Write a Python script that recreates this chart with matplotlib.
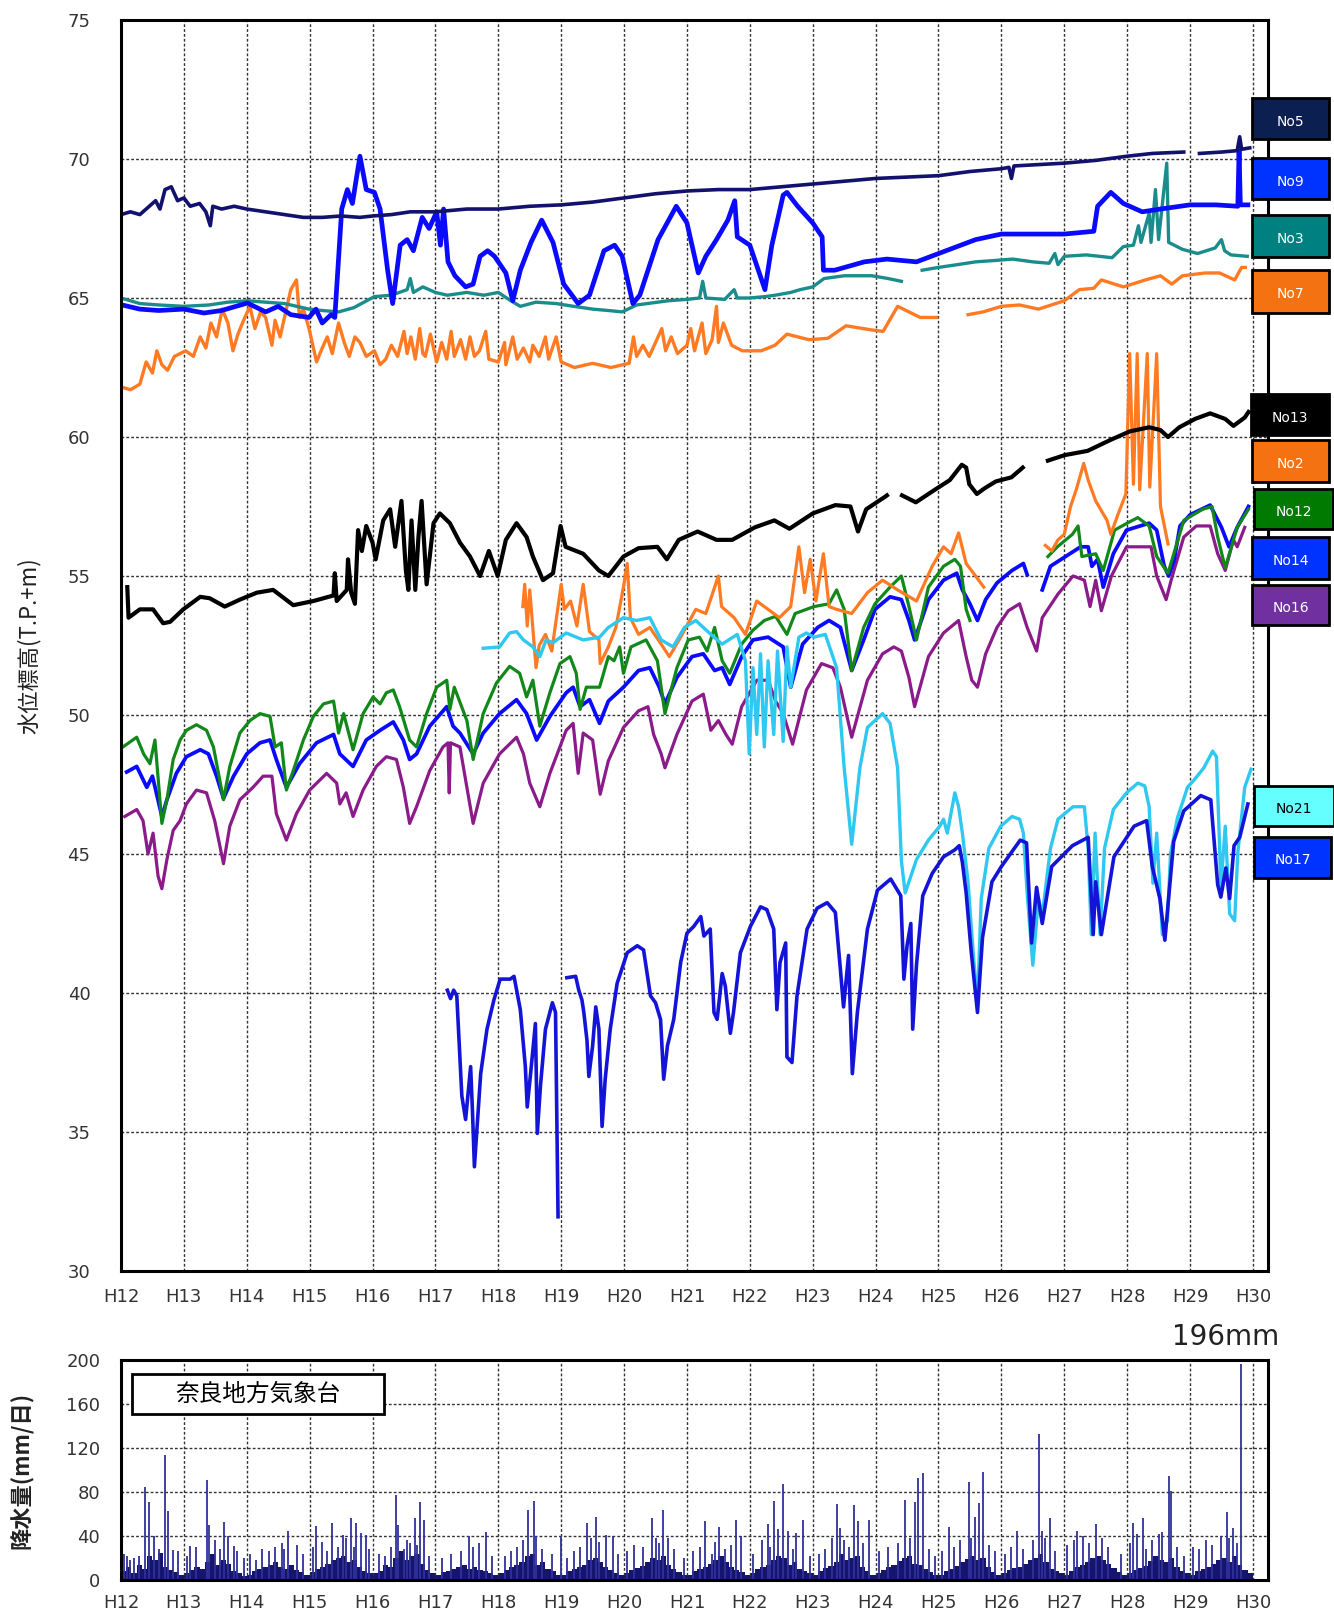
import numpy as np
import matplotlib
matplotlib.use("Agg")
import matplotlib.pyplot as plt
from matplotlib.patches import Rectangle

plt.rcParams['font.family'] = ['DejaVu Sans', 'Noto Sans CJK JP']

# groundwater level (T.P.+m), time in years from the start of H12; None = gap
no5 = [(0.0, 68.0), (0.15, 68.1), (0.3, 68.0), (0.45, 68.3), (0.55, 68.5), (0.62, 68.2), (0.7, 68.9), (0.8, 69.0),
       (0.9, 68.5), (1.0, 68.6), (1.1, 68.3), (1.25, 68.4), (1.35, 68.1), (1.42, 67.6), (1.46, 68.3), (1.6, 68.2),
       (1.8, 68.3), (2.0, 68.2), (2.3, 68.1), (2.6, 68.0), (2.9, 67.9), (3.2, 67.9), (3.5, 67.95), (3.8, 67.9),
       (4.0, 67.95), (4.3, 68.0), (4.6, 68.1), (5.0, 68.1), (5.5, 68.2), (6.0, 68.2), (6.5, 68.3), (7.0, 68.35),
       (7.5, 68.45), (8.0, 68.6), (8.5, 68.75), (9.0, 68.85), (9.5, 68.9), (10.0, 68.9), (10.5, 69.0), (11.0, 69.1),
       (11.5, 69.2), (12.0, 69.3), (12.5, 69.35), (13.0, 69.4), (13.5, 69.55), (14.0, 69.65), (14.12, 69.7),
       (14.16, 69.3), (14.2, 69.75), (14.6, 69.8), (15.0, 69.85), (15.5, 69.95), (16.0, 70.1), (16.4, 70.2),
       (16.9, 70.25), None, (17.15, 70.2), (17.5, 70.25), (17.75, 70.3), (17.79, 70.8), (17.82, 70.35), (17.95, 70.4)]

no9 = [(0.0, 64.76), (0.3, 64.6), (0.6, 64.55), (1.0, 64.6), (1.32, 64.46), (1.6, 64.55), (2.01, 64.82), (2.3, 64.5),
       (2.5, 64.7), (2.7, 64.4), (2.99, 64.3), (3.1, 64.6), (3.2, 64.1), (3.34, 64.4), (3.4, 64.3), (3.51, 68.2),
       (3.6, 68.9), (3.68, 68.4), (3.75, 69.4), (3.8, 70.1), (3.9, 68.9), (4.03, 68.8), (4.12, 68.2), (4.24, 66.0),
       (4.32, 64.8), (4.44, 66.9), (4.55, 67.1), (4.65, 66.7), (4.79, 67.9), (4.9, 67.5), (5.02, 68.1), (5.08, 66.9),
       (5.13, 68.2), (5.2, 66.3), (5.31, 65.8), (5.48, 65.4), (5.6, 65.5), (5.71, 66.5), (5.83, 66.7), (5.94, 66.5),
       (6.12, 65.9), (6.23, 64.9), (6.35, 66.0), (6.52, 67.0), (6.69, 67.8), (6.87, 67.0), (7.04, 65.5), (7.27, 64.8),
       (7.45, 65.1), (7.68, 66.7), (7.85, 66.9), (7.97, 66.5), (8.14, 64.8), (8.25, 65.1), (8.54, 67.1), (8.83, 68.3),
       (9.0, 67.7), (9.18, 65.9), (9.3, 66.5), (9.47, 67.1), (9.65, 67.8), (9.76, 68.5), (9.8, 67.2), (10.0, 66.9),
       (10.18, 65.7), (10.24, 65.3), (10.35, 66.9), (10.53, 68.7), (10.59, 68.8), (10.76, 68.3), (11.0, 67.7),
       (11.15, 67.2), (11.17, 66.0), (11.35, 66.0), (11.82, 66.3), (12.18, 66.4), (12.65, 66.3), (13.12, 66.7),
       (13.59, 67.1), (14.0, 67.3), (14.47, 67.3), (15.0, 67.3), (15.47, 67.4), (15.53, 68.3), (15.74, 68.8),
       (15.94, 68.4), (16.24, 68.1), (16.53, 68.2), (17.0, 68.35), (17.41, 68.35), (17.76, 68.3), (17.78, 70.3),
       (17.8, 68.35), (17.92, 68.35)]

no3 = [(0.0, 65.0), (0.3, 64.8), (0.6, 64.75), (1.0, 64.7), (1.4, 64.75), (1.7, 64.85), (2.01, 64.9), (2.3, 64.85),
       (2.6, 64.8), (2.99, 64.6), (3.2, 64.55), (3.46, 64.5), (3.7, 64.65), (4.03, 65.05), (4.3, 65.1), (4.55, 65.3),
       (4.6, 65.7), (4.65, 65.2), (4.8, 65.4), (5.0, 65.2), (5.19, 65.1), (5.5, 65.2), (5.77, 65.1), (6.0, 65.2),
       (6.2, 64.9), (6.35, 64.7), (6.6, 64.85), (6.92, 64.8), (7.2, 64.7), (7.5, 64.6), (7.75, 64.55), (7.97, 64.5),
       (8.2, 64.75), (8.37, 64.8), (8.7, 64.9), (9.0, 64.95), (9.2, 65.0), (9.25, 65.6), (9.3, 65.0), (9.6, 64.95),
       (9.75, 65.3), (9.8, 65.0), (10.0, 65.0), (10.24, 65.05), (10.4, 65.1), (10.65, 65.2), (10.8, 65.3),
       (11.0, 65.4), (11.18, 65.7), (11.5, 65.8), (11.94, 65.8), (12.2, 65.7), (12.41, 65.6), None, (12.74, 66.0),
       (13.0, 66.1), (13.3, 66.2), (13.59, 66.3), (13.9, 66.35), (14.18, 66.4), (14.5, 66.3), (14.76, 66.25),
       (14.85, 66.6), (14.9, 66.2), (15.0, 66.5), (15.35, 66.55), (15.76, 66.45), (15.94, 66.85), (16.1, 66.9),
       (16.18, 67.6), (16.22, 67.0), (16.35, 68.05), (16.38, 67.0), (16.45, 68.9), (16.5, 67.1), (16.63, 69.85),
       (16.66, 67.0), (16.88, 66.75), (17.12, 66.6), (17.4, 66.8), (17.5, 67.1), (17.55, 66.7), (17.65, 66.55),
       (17.91, 66.5)]

no7 = [(0.0, 61.8), (0.15, 61.7), (0.3, 61.9), (0.4, 62.7), (0.5, 62.3), (0.57, 63.1), (0.65, 62.6), (0.74, 62.4),
       (0.85, 62.9), (1.03, 63.1), (1.15, 62.9), (1.26, 63.6), (1.35, 63.2), (1.43, 64.1), (1.52, 63.6), (1.61, 64.6),
       (1.7, 64.1), (1.78, 63.1), (1.86, 63.7), (1.95, 64.2), (2.05, 64.7), (2.13, 63.9), (2.22, 64.5), (2.3, 64.3),
       (2.4, 63.3), (2.45, 64.2), (2.53, 63.6), (2.6, 64.3), (2.7, 65.3), (2.79, 65.65), (2.84, 64.3), (2.9, 64.6),
       (2.99, 63.9), (3.05, 63.3), (3.11, 62.7), (3.2, 63.2), (3.28, 63.6), (3.36, 63.0), (3.46, 64.1), (3.55, 63.4),
       (3.63, 62.9), (3.72, 63.6), (3.8, 63.4), (3.9, 62.9), (4.03, 63.1), (4.12, 62.6), (4.21, 62.8), (4.3, 63.3),
       (4.4, 62.9), (4.5, 63.8), (4.55, 63.0), (4.61, 63.6), (4.68, 62.8), (4.75, 63.9), (4.8, 63.0), (4.84, 62.9),
       (4.92, 63.7), (5.02, 62.7), (5.1, 63.4), (5.18, 62.8), (5.25, 63.8), (5.3, 62.9), (5.4, 63.5), (5.48, 62.8),
       (5.55, 63.6), (5.62, 62.9), (5.7, 63.1), (5.8, 63.8), (5.85, 62.8), (6.0, 62.7), (6.1, 63.4), (6.12, 62.6),
       (6.23, 63.6), (6.3, 62.8), (6.4, 63.2), (6.5, 62.7), (6.55, 63.3), (6.65, 62.9), (6.75, 63.6), (6.8, 62.8),
       (6.92, 63.6), (7.0, 62.7), (7.21, 62.5), (7.5, 62.65), (7.79, 62.5), (8.08, 62.65), (8.15, 63.6), (8.2, 62.9),
       (8.3, 63.3), (8.4, 62.9), (8.5, 63.4), (8.6, 63.9), (8.66, 63.1), (8.75, 63.6), (8.85, 63.0), (9.0, 63.3),
       (9.06, 63.9), (9.12, 63.1), (9.24, 64.1), (9.3, 63.0), (9.4, 63.5), (9.47, 64.7), (9.5, 63.4), (9.58, 64.1),
       (9.71, 63.3), (9.88, 63.1), (10.18, 63.1), (10.4, 63.3), (10.59, 63.7), (10.94, 63.5), (11.24, 63.55),
       (11.53, 64.0), (11.94, 63.85), (12.12, 63.8), (12.35, 64.7), (12.53, 64.5), (12.71, 64.3), (12.97, 64.3),
       None, (13.47, 64.4), (13.71, 64.5), (14.0, 64.7), (14.29, 64.75), (14.59, 64.6), (15.0, 64.9), (15.24, 65.3),
       (15.47, 65.35), (15.59, 65.65), (15.94, 65.4), (16.29, 65.65), (16.53, 65.8), (16.71, 65.5), (16.88, 65.8),
       (17.24, 65.9), (17.47, 65.9), (17.71, 65.65), (17.82, 66.1), (17.88, 66.1)]

no13 = [(0.1, 54.6), (0.12, 53.5), (0.3, 53.8), (0.51, 53.8), (0.67, 53.3), (0.78, 53.35), (0.99, 53.8), (1.26, 54.25),
        (1.41, 54.2), (1.65, 53.9), (1.89, 54.15), (2.16, 54.4), (2.42, 54.5), (2.74, 53.95), (3.06, 54.1),
        (3.38, 54.3), (3.4, 55.1), (3.43, 54.1), (3.59, 54.5), (3.61, 55.6), (3.66, 54.4), (3.72, 54.0),
        (3.77, 56.65), (3.83, 55.9), (3.9, 56.8), (4.0, 56.2), (4.05, 55.6), (4.17, 57.0), (4.28, 57.4),
        (4.36, 56.05), (4.46, 57.7), (4.53, 55.2), (4.57, 54.5), (4.62, 57.0), (4.68, 54.5), (4.73, 56.4),
        (4.78, 57.7), (4.86, 54.7), (4.97, 56.9), (5.07, 57.25), (5.23, 56.9), (5.39, 56.2), (5.55, 55.7),
        (5.71, 55.0), (5.85, 55.9), (5.99, 55.0), (6.12, 56.3), (6.29, 56.9), (6.45, 56.4), (6.55, 55.7),
        (6.71, 54.85), (6.87, 55.1), (6.99, 56.8), (7.07, 56.05), (7.35, 55.8), (7.6, 55.2), (7.75, 55.0),
        (7.99, 55.7), (8.23, 56.0), (8.53, 56.05), (8.68, 55.6), (8.87, 56.3), (9.17, 56.6), (9.47, 56.3),
        (9.72, 56.3), (10.08, 56.75), (10.39, 57.0), (10.63, 56.7), (11.0, 57.25), (11.36, 57.55), (11.6, 57.5),
        (11.72, 56.6), (11.85, 57.4), (12.15, 57.85), (12.18, 57.9), None, (12.42, 57.9), (12.64, 57.65),
        (12.94, 58.1), (13.18, 58.45), (13.37, 59.0), (13.44, 58.9), (13.49, 58.3), (13.61, 57.95), (13.73, 58.15),
        (13.91, 58.4), (14.16, 58.55), (14.34, 58.9), None, (14.74, 59.15), (15.01, 59.35), (15.37, 59.5),
        (15.74, 59.9), (16.04, 60.2), (16.35, 60.35), (16.53, 60.25), (16.65, 60.0), (16.83, 60.35), (17.08, 60.65),
        (17.32, 60.85), (17.56, 60.65), (17.69, 60.4), (17.87, 60.7), (17.93, 60.9)]

no2 = [(6.39, 53.9), (6.42, 54.7), (6.46, 53.2), (6.5, 54.5), (6.6, 51.7), (6.65, 52.5), (6.75, 52.9), (6.85, 52.3),
       (7.0, 54.7), (7.05, 53.8), (7.15, 54.1), (7.25, 53.2), (7.35, 54.7), (7.45, 53.0), (7.6, 52.7), (7.62, 51.85),
       (7.75, 52.45), (7.87, 53.15), (7.99, 54.6), (8.05, 55.45), (8.1, 53.5), (8.23, 52.9), (8.41, 53.15),
       (8.59, 52.55), (8.72, 52.1), (8.9, 52.8), (9.14, 53.8), (9.3, 53.65), (9.5, 55.0), (9.55, 53.9), (9.75, 53.5),
       (9.93, 52.9), (10.11, 54.1), (10.29, 53.8), (10.47, 53.5), (10.65, 53.9), (10.78, 56.05), (10.87, 54.4),
       (10.96, 55.6), (11.05, 54.1), (11.17, 55.8), (11.26, 53.9), (11.38, 53.8), (11.62, 53.65), (11.87, 54.4),
       (12.11, 54.85), (12.35, 54.5), (12.65, 54.1), (12.9, 55.35), (13.08, 56.05), (13.2, 55.8), (13.32, 56.55),
       (13.44, 55.45), (13.59, 55.0), (13.72, 54.6), None, (14.7, 56.1), (14.8, 55.9), (14.9, 56.3), (15.0, 56.5),
       (15.1, 57.5), (15.19, 58.1), (15.31, 59.05), (15.38, 58.45), (15.5, 57.7), (15.68, 57.0), (15.74, 56.5),
       (15.86, 57.25), (15.98, 57.95), (16.04, 63.0), (16.1, 58.3), (16.16, 63.0), (16.2, 58.1), (16.32, 63.0),
       (16.36, 58.2), (16.47, 63.0), (16.53, 57.5), (16.65, 56.15)]

no12 = [(0.03, 48.85), (0.25, 49.2), (0.36, 48.6), (0.46, 48.25), (0.54, 49.1), (0.65, 46.1), (0.73, 46.95),
        (0.83, 48.4), (0.94, 49.1), (1.04, 49.45), (1.2, 49.65), (1.36, 49.45), (1.47, 48.85), (1.55, 47.9),
        (1.63, 46.95), (1.73, 48.15), (1.89, 49.35), (2.05, 49.8), (2.21, 50.05), (2.37, 49.95), (2.45, 48.85),
        (2.55, 49.0), (2.63, 47.3), (2.74, 48.0), (2.9, 49.1), (3.06, 49.95), (3.22, 50.4), (3.38, 50.5),
        (3.46, 49.35), (3.54, 50.05), (3.69, 48.75), (3.85, 50.05), (4.01, 50.65), (4.12, 50.4), (4.22, 50.8),
        (4.33, 50.9), (4.43, 50.3), (4.59, 49.1), (4.7, 48.85), (4.86, 50.05), (5.02, 51.0), (5.18, 51.25),
        (5.23, 50.2), (5.3, 51.0), (5.5, 49.8), (5.6, 48.4), (5.76, 50.05), (5.97, 51.15), (6.18, 51.75),
        (6.34, 51.5), (6.45, 50.65), (6.55, 51.25), (6.66, 49.6), (6.82, 50.8), (6.98, 51.85), (7.14, 52.1),
        (7.24, 51.5), (7.3, 50.2), (7.4, 51.0), (7.61, 51.0), (7.75, 52.1), (7.84, 51.95), (7.93, 52.45),
        (7.99, 51.5), (8.11, 52.45), (8.35, 52.7), (8.53, 51.95), (8.65, 50.05), (8.84, 51.7), (9.02, 52.7),
        (9.2, 52.8), (9.32, 52.3), (9.44, 53.15), (9.56, 51.95), (9.68, 51.5), (9.87, 52.55), (10.05, 53.05),
        (10.23, 53.4), (10.41, 53.55), (10.59, 52.9), (10.72, 53.65), (11.02, 53.9), (11.26, 54.0), (11.38, 54.5),
        (11.5, 53.8), (11.62, 51.6), (11.81, 53.15), (11.99, 54.0), (12.23, 54.6), (12.41, 55.0), (12.53, 53.9),
        (12.65, 52.7), (12.84, 54.6), (13.08, 55.35), (13.26, 55.6), (13.35, 55.35), (13.44, 53.8), (13.5, 53.4),
        None, (14.74, 55.7), (14.89, 56.05), (15.13, 56.5), (15.22, 56.8), (15.28, 55.7), (15.5, 55.8),
        (15.62, 55.2), (15.8, 56.65), (16.04, 56.95), (16.17, 57.1), (16.35, 56.8), (16.47, 55.7), (16.65, 55.1),
        (16.9, 57.0), (17.2, 57.4), (17.35, 57.5), (17.44, 56.4), (17.56, 55.3), (17.75, 56.75), (17.93, 57.4)]

no14 = [(0.09, 47.95), (0.25, 48.15), (0.41, 47.4), (0.5, 47.8), (0.65, 46.35), (0.73, 46.95), (0.88, 47.9),
        (1.04, 48.5), (1.26, 48.75), (1.39, 48.6), (1.52, 47.8), (1.63, 47.0), (1.79, 47.8), (2.0, 48.6),
        (2.21, 49.0), (2.37, 49.1), (2.47, 48.4), (2.63, 47.4), (2.84, 48.25), (3.11, 49.0), (3.38, 49.3),
        (3.48, 48.6), (3.69, 48.15), (3.9, 49.1), (4.12, 49.45), (4.33, 49.75), (4.49, 49.1), (4.59, 48.4),
        (4.7, 48.6), (4.91, 49.6), (5.18, 50.3), (5.28, 49.6), (5.39, 49.35), (5.6, 48.6), (5.76, 49.35),
        (6.02, 50.05), (6.29, 50.55), (6.45, 50.05), (6.61, 49.1), (6.82, 49.95), (7.08, 50.8), (7.19, 51.0),
        (7.3, 50.3), (7.45, 50.55), (7.61, 49.7), (7.75, 50.5), (7.99, 51.0), (8.23, 51.6), (8.41, 51.7),
        (8.56, 51.0), (8.65, 50.4), (8.84, 51.35), (9.08, 52.1), (9.26, 52.2), (9.44, 51.6), (9.56, 51.7),
        (9.68, 51.1), (9.87, 52.1), (10.05, 52.7), (10.29, 52.8), (10.53, 52.45), (10.65, 51.0), (10.84, 52.55),
        (11.08, 53.15), (11.26, 53.4), (11.44, 53.15), (11.62, 51.6), (11.81, 52.7), (11.99, 53.8), (12.23, 54.25),
        (12.41, 54.15), (12.53, 53.4), (12.62, 52.7), (12.84, 54.15), (13.08, 54.85), (13.29, 55.1), (13.38, 54.5),
        (13.5, 54.0), (13.62, 53.4), (13.75, 54.15), (13.93, 54.75), (14.17, 55.2), (14.35, 55.45), (14.41, 55.05),
        None, (14.65, 54.5), (14.78, 55.35), (15.02, 55.7), (15.26, 56.05), (15.38, 56.05), (15.44, 55.35),
        (15.53, 55.6), (15.62, 54.6), (15.78, 55.8), (15.99, 56.65), (16.35, 56.9), (16.47, 56.65), (16.59, 55.35),
        (16.66, 55.0), (16.75, 55.6), (16.84, 56.8), (17.0, 57.2), (17.32, 57.55), (17.5, 56.75), (17.62, 56.05),
        (17.75, 56.75), (17.93, 57.5)]

no16 = [(0.06, 46.35), (0.25, 46.6), (0.35, 46.2), (0.43, 45.0), (0.51, 45.75), (0.59, 44.2), (0.65, 43.75),
        (0.73, 44.8), (0.83, 45.85), (0.94, 46.2), (1.04, 46.8), (1.2, 47.3), (1.36, 47.2), (1.49, 46.2),
        (1.63, 44.65), (1.73, 46.0), (1.89, 46.95), (2.1, 47.4), (2.26, 47.8), (2.4, 47.8), (2.47, 46.45),
        (2.63, 45.5), (2.79, 46.45), (3.0, 47.3), (3.27, 47.9), (3.43, 47.55), (3.48, 46.8), (3.58, 47.2),
        (3.69, 46.35), (3.85, 47.3), (4.06, 48.15), (4.22, 48.5), (4.38, 48.4), (4.49, 47.4), (4.59, 46.1),
        (4.7, 46.7), (4.91, 48.0), (5.12, 48.85), (5.2, 49.0), (5.22, 47.2), (5.24, 49.0), (5.39, 48.85),
        (5.5, 47.4), (5.6, 46.1), (5.76, 47.55), (6.02, 48.6), (6.29, 49.2), (6.4, 48.6), (6.5, 47.55), (6.66, 46.7),
        (6.82, 47.9), (7.08, 49.45), (7.19, 49.7), (7.27, 47.9), (7.35, 49.35), (7.5, 49.1), (7.62, 47.15),
        (7.75, 48.35), (7.99, 49.55), (8.23, 50.15), (8.38, 50.3), (8.47, 49.3), (8.59, 48.6), (8.65, 48.1),
        (8.84, 49.3), (9.08, 50.5), (9.26, 50.75), (9.38, 49.45), (9.5, 49.8), (9.62, 49.3), (9.72, 48.95),
        (9.87, 50.3), (10.11, 51.25), (10.29, 51.25), (10.41, 50.5), (10.53, 50.05), (10.68, 48.95), (10.9, 50.9),
        (11.14, 51.85), (11.32, 51.7), (11.44, 51.0), (11.62, 49.2), (11.87, 51.25), (12.11, 52.2), (12.29, 52.45),
        (12.41, 52.3), (12.53, 51.35), (12.62, 50.3), (12.84, 52.1), (13.08, 52.95), (13.32, 53.4), (13.44, 52.1),
        (13.53, 51.25), (13.62, 51.0), (13.75, 52.2), (13.93, 53.15), (14.11, 53.75), (14.29, 54.0), (14.41, 53.15),
        (14.56, 52.3), (14.65, 53.5), (14.9, 54.35), (15.14, 55.0), (15.32, 54.85), (15.41, 53.9), (15.5, 54.85),
        (15.59, 53.75), (15.75, 55.0), (15.99, 56.05), (16.23, 56.05), (16.38, 56.05), (16.47, 55.0),
        (16.62, 54.15), (16.7, 54.85), (16.9, 56.4), (17.1, 56.8), (17.32, 56.8), (17.44, 55.8), (17.56, 55.2),
        (17.69, 56.3), (17.75, 56.05), (17.87, 56.75)]

no21 = [(5.76, 52.4), (6.02, 52.45), (6.18, 52.95), (6.29, 53.0), (6.4, 52.7), (6.55, 52.45), (6.66, 52.1),
        (6.76, 52.7), (6.87, 52.6), (7.08, 52.95), (7.35, 52.7), (7.61, 52.8), (7.75, 53.15), (7.99, 53.5),
        (8.2, 53.4), (8.41, 53.5), (8.59, 52.7), (8.78, 52.45), (8.96, 53.15), (9.14, 53.4), (9.38, 52.9),
        (9.56, 52.55), (9.8, 52.9), (9.93, 51.95), (9.99, 48.6), (10.05, 51.7), (10.11, 49.3), (10.17, 52.2),
        (10.23, 48.85), (10.29, 51.95), (10.38, 49.3), (10.44, 52.3), (10.53, 49.05), (10.59, 52.45), (10.65, 51.0),
        (10.78, 52.8), (10.9, 52.95), (11.02, 52.8), (11.2, 52.9), (11.38, 51.7), (11.5, 48.1), (11.62, 45.35),
        (11.75, 48.1), (11.87, 49.55), (11.99, 49.8), (12.11, 50.05), (12.23, 49.7), (12.35, 48.1), (12.41, 44.75),
        (12.47, 43.6), (12.65, 44.8), (12.84, 45.5), (13.02, 46.0), (13.08, 46.25), (13.14, 45.75), (13.26, 47.2),
        (13.32, 46.7), (13.38, 45.75), (13.47, 44.0), (13.55, 41.5), (13.62, 39.6), (13.68, 43.4), (13.8, 45.2),
        (13.99, 46.0), (14.17, 46.35), (14.29, 46.25), (14.35, 45.75), (14.41, 43.6), (14.5, 41.0), (14.59, 43.4),
        (14.65, 42.8), (14.78, 45.2), (14.9, 46.25), (15.14, 46.7), (15.32, 46.7), (15.38, 45.2), (15.43, 42.1),
        (15.49, 45.75), (15.57, 42.1), (15.64, 45.2), (15.78, 46.6), (15.99, 47.2), (16.17, 47.55), (16.28, 47.45),
        (16.35, 46.7), (16.41, 43.95), (16.47, 45.75), (16.56, 42.1), (16.64, 42.6), (16.69, 45.0), (16.8, 46.3),
        (16.96, 47.4), (17.06, 47.65), (17.22, 48.1), (17.36, 48.7), (17.42, 48.5), (17.47, 45.3), (17.49, 43.8),
        (17.56, 46.0), (17.63, 42.85), (17.71, 42.6), (17.76, 45.05), (17.87, 47.4), (17.97, 48.05)]

no17 = [(5.19, 40.1), (5.24, 39.8), (5.29, 40.1), (5.34, 39.9), (5.42, 36.3), (5.48, 35.45), (5.56, 37.35),
        (5.59, 35.7), (5.62, 33.75), (5.67, 35.45), (5.72, 37.1), (5.82, 38.7), (5.93, 39.75), (6.03, 40.5),
        (6.19, 40.5), (6.25, 40.6), (6.35, 39.4), (6.43, 37.35), (6.46, 35.9), (6.52, 37.25), (6.59, 38.9),
        (6.62, 34.95), (6.67, 36.65), (6.75, 38.7), (6.86, 39.65), (6.91, 39.3), (6.95, 31.95), None, (7.09, 40.55),
        (7.23, 40.6), (7.28, 40.1), (7.33, 39.75), (7.36, 39.3), (7.41, 38.3), (7.44, 37.0), (7.5, 38.1),
        (7.55, 39.5), (7.6, 38.7), (7.65, 35.2), (7.7, 36.9), (7.78, 38.7), (7.89, 40.35), (8.05, 41.45),
        (8.21, 41.7), (8.31, 41.55), (8.42, 39.9), (8.5, 39.65), (8.58, 39.05), (8.63, 36.9), (8.69, 38.1),
        (8.79, 39.05), (8.9, 41.1), (9.0, 42.15), (9.11, 42.4), (9.22, 42.75), (9.27, 42.05), (9.37, 42.3),
        (9.43, 39.3), (9.48, 39.05), (9.56, 40.7), (9.61, 40.25), (9.69, 38.55), (9.74, 39.3), (9.85, 41.45),
        (10.01, 42.4), (10.17, 43.1), (10.27, 43.0), (10.38, 42.3), (10.43, 39.4), (10.48, 41.1), (10.57, 41.8),
        (10.59, 37.7), (10.67, 37.5), (10.75, 39.9), (10.91, 42.3), (11.07, 43.05), (11.23, 43.25), (11.36, 42.9),
        (11.44, 40.85), (11.49, 39.5), (11.57, 41.35), (11.63, 37.1), (11.71, 39.3), (11.87, 42.3), (12.03, 43.7),
        (12.24, 44.1), (12.4, 43.5), (12.45, 40.5), (12.5, 41.7), (12.56, 42.5), (12.59, 38.7), (12.65, 41.0),
        (12.75, 43.5), (12.9, 44.3), (13.08, 44.9), (13.26, 45.15), (13.33, 45.3), (13.38, 44.7), (13.44, 43.6),
        (13.52, 41.5), (13.62, 39.3), (13.7, 42.0), (13.85, 44.0), (14.0, 44.55), (14.3, 45.5), (14.4, 45.4),
        (14.48, 41.8), (14.56, 43.8), (14.65, 42.5), (14.8, 44.55), (15.13, 45.3), (15.38, 45.6), (15.46, 42.1),
        (15.5, 44.0), (15.59, 42.1), (15.79, 44.9), (16.11, 46.0), (16.31, 46.2), (16.4, 44.55), (16.52, 43.4),
        (16.6, 41.9), (16.74, 45.45), (16.9, 46.55), (17.17, 47.1), (17.33, 46.95), (17.44, 43.9), (17.49, 43.45),
        (17.57, 44.5), (17.63, 43.4), (17.7, 45.3), (17.79, 45.6), (17.92, 46.8)]

# daily rainfall at Nara (mm/day): monthly background level per year, then single wet days
rain_base = [
    [8, 12, 6, 14, 10, 22, 18, 25, 12, 9, 7, 5],
    [6, 9, 12, 10, 16, 24, 14, 18, 15, 8, 6, 4],
    [5, 8, 10, 12, 14, 16, 12, 10, 14, 9, 7, 5],
    [7, 10, 12, 15, 18, 20, 22, 16, 18, 12, 8, 6],
    [6, 8, 14, 12, 20, 26, 18, 22, 24, 15, 9, 6],
    [5, 7, 8, 10, 12, 14, 10, 12, 9, 8, 6, 5],
    [6, 9, 12, 14, 16, 22, 24, 14, 16, 10, 8, 5],
    [5, 8, 10, 12, 14, 18, 20, 16, 12, 9, 6, 5],
    [6, 9, 11, 13, 16, 20, 18, 22, 14, 10, 7, 5],
    [5, 8, 10, 12, 15, 18, 22, 16, 12, 9, 7, 5],
    [6, 10, 12, 14, 18, 22, 20, 14, 16, 10, 8, 6],
    [5, 8, 11, 13, 16, 24, 18, 20, 22, 12, 8, 5],
    [6, 9, 12, 14, 17, 20, 22, 15, 14, 10, 7, 5],
    [5, 8, 10, 13, 16, 19, 22, 18, 20, 12, 7, 5],
    [6, 9, 11, 12, 15, 18, 20, 24, 16, 10, 8, 6],
    [5, 8, 12, 14, 16, 20, 22, 18, 15, 11, 7, 5],
    [6, 9, 11, 13, 17, 22, 18, 16, 20, 12, 8, 6],
    [5, 8, 10, 12, 15, 18, 20, 16, 22, 14, 9, 6],
]

rain_days = [(0.05, 24), (0.1, 22), (0.15, 18), (0.2, 20), (0.28, 22), (0.38, 85), (0.45, 71), (0.52, 40), (0.6, 28),
             (0.7, 114), (0.74, 63), (0.82, 27), (0.9, 26), (1.05, 22), (1.1, 31), (1.2, 30), (1.36, 91), (1.4, 50),
             (1.5, 36), (1.58, 28), (1.64, 53), (1.7, 40), (1.79, 31), (1.85, 26), (1.95, 20), (2.05, 24), (2.15, 18),
             (2.25, 28), (2.35, 26), (2.45, 30), (2.56, 34), (2.6, 28), (2.66, 45), (2.8, 32), (2.9, 24), (3.05, 30),
             (3.1, 49), (3.2, 35), (3.28, 26), (3.35, 52), (3.45, 30), (3.53, 41), (3.58, 38), (3.65, 56), (3.7, 30),
             (3.74, 52), (3.82, 43), (3.9, 41), (3.95, 28), (4.1, 24), (4.2, 22), (4.3, 30), (4.37, 77), (4.4, 50),
             (4.5, 28), (4.55, 36), (4.6, 34), (4.67, 56), (4.7, 32), (4.75, 71), (4.82, 55), (4.9, 22), (5.1, 20),
             (5.25, 24), (5.4, 26), (5.53, 40), (5.6, 30), (5.7, 34), (5.81, 44), (5.9, 22), (6.1, 22), (6.2, 26),
             (6.3, 30), (6.4, 36), (6.47, 64), (6.56, 72), (6.6, 40), (6.7, 28), (6.85, 24), (7.0, 40), (7.1, 20),
             (7.2, 26), (7.3, 30), (7.41, 52), (7.48, 38), (7.56, 57), (7.6, 35), (7.71, 41), (7.82, 40), (7.9, 24),
             (8.05, 26), (8.15, 32), (8.3, 30), (8.44, 56), (8.5, 38), (8.55, 34), (8.62, 64), (8.7, 38), (8.8, 28),
             (8.95, 20), (9.1, 26), (9.2, 30), (9.29, 54), (9.4, 24), (9.45, 35), (9.51, 48), (9.6, 28), (9.7, 32),
             (9.78, 55), (9.86, 40), (10.05, 24), (10.2, 36), (10.29, 51), (10.32, 30), (10.38, 72), (10.45, 46),
             (10.52, 87), (10.6, 45), (10.68, 28), (10.73, 43), (10.84, 55), (10.95, 22), (11.1, 24), (11.2, 28),
             (11.3, 38), (11.39, 69), (11.44, 47), (11.5, 36), (11.58, 30), (11.66, 68), (11.72, 54), (11.8, 34),
             (11.89, 55), (12.05, 26), (12.2, 30), (12.35, 34), (12.47, 73), (12.55, 38), (12.62, 71), (12.68, 93),
             (12.76, 97), (12.85, 28), (12.95, 22), (13.05, 26), (13.16, 48), (13.25, 30), (13.35, 36), (13.48, 89),
             (13.52, 38), (13.58, 57), (13.64, 70), (13.71, 98), (13.8, 32), (13.9, 26), (14.05, 24), (14.15, 30),
             (14.25, 45), (14.35, 28), (14.5, 36), (14.6, 133), (14.65, 45), (14.7, 38), (14.78, 56), (14.85, 26),
             (15.05, 32), (15.15, 36), (15.21, 45), (15.3, 40), (15.4, 34), (15.51, 51), (15.6, 38), (15.7, 30),
             (15.9, 24), (16.05, 34), (16.09, 52), (16.15, 42), (16.25, 56), (16.3, 28), (16.4, 36), (16.51, 42),
             (16.55, 44), (16.67, 95), (16.7, 81), (16.8, 30), (16.9, 22), (17.05, 30), (17.15, 28), (17.25, 36),
             (17.35, 32), (17.5, 40), (17.59, 62), (17.62, 38), (17.69, 47), (17.75, 34), (17.81, 196)]

years = [f'H{12 + i}' for i in range(19)]


def split(pairs):
    t = [p[0] if p else np.nan for p in pairs]
    v = [p[1] if p else np.nan for p in pairs]
    return t, v


W, H = 1334, 1618
fig = plt.figure(figsize=(W / 100, H / 100), dpi=100)
ax = fig.add_axes([121 / W, 1 - 1271 / H, 1147 / W, 1251 / H])
axr = fig.add_axes([121 / W, 1 - 1580 / H, 1147 / W, 220 / H])

grid_kw = dict(color='#333333', linestyle=(0, (2, 1.5)), linewidth=1.0)

series = [
    (no16, '#8b1a8b', 2.3),
    (no14, '#0a0aff', 2.7),
    (no12, '#12881a', 2.3),
    (no2, '#ff7a22', 2.3),
    (no21, '#2ec8f0', 2.4),
    (no17, '#1414d8', 2.6),
    (no13, '#000000', 3.0),
    (no7, '#ff7a22', 2.4),
    (no3, '#1a8c8c', 2.4),
    (no9, '#0a0aff', 3.4),
    (no5, '#12126e', 2.6),
]
for pairs, col, lw in series:
    t, v = split(pairs)
    ax.plot(t, v, color=col, lw=lw, solid_joinstyle='round')

ax.set_xlim(0, 18.24)
ax.set_ylim(30, 75)
ax.set_xticks(range(19))
ax.set_xticklabels(years)
ax.set_yticks(range(30, 80, 5))
ax.grid(True, **grid_kw)
ax.tick_params(axis='both', length=0, labelsize=13, labelcolor='#333333')
ax.tick_params(axis='x', pad=12)
ax.tick_params(axis='y', pad=22)
for s in ax.spines.values():
    s.set_linewidth(2.2)
ax.set_ylabel('水位標高(T.P.+m)', fontsize=16, color='#222222', family=['Noto Sans CJK JP', 'DejaVu Sans'])
ax.yaxis.set_label_coords(-0.07, 0.5)

# rainfall panel
base_t = [i + (m + 0.5) / 12 for i in range(len(rain_base)) for m in range(12)]
base_v = [x for row in rain_base for x in row]
axr.bar(base_t, base_v, width=1 / 12, color='#15156e', linewidth=0)
rt, rv = split(rain_days)
axr.vlines(rt, 0, rv, color='#30309a', lw=1.3)

axr.set_xlim(0, 18.24)
axr.set_ylim(0, 200)
axr.set_xticks(range(19))
axr.set_xticklabels(years)
axr.set_yticks(range(0, 201, 40))
axr.grid(True, **grid_kw)
axr.tick_params(axis='both', length=0, labelsize=13, labelcolor='#333333')
axr.tick_params(axis='x', pad=10)
axr.tick_params(axis='y', pad=15)
for s in axr.spines.values():
    s.set_linewidth(2.2)
axr.set_ylabel('降水量(mm/日)', fontsize=16, fontweight='bold', color='#222222',
               family=['Noto Sans CJK JP', 'DejaVu Sans'])
axr.yaxis.set_label_coords(-0.076, 0.5)

axr.add_patch(Rectangle((0.0096, 0.7545), 0.2197, 0.1815, transform=axr.transAxes,
                        facecolor='white', edgecolor='black', lw=2, zorder=5))
axr.text(0.1195, 0.845, '奈良地方気象台', transform=axr.transAxes, ha='center', va='center',
         fontsize=17, family=['Noto Sans CJK JP'], zorder=6)

fig.text(1226 / W, 1 - 1337 / H, '196mm', ha='center', va='center', fontsize=20, color='#222222')

# station legend boxes on the right edge
boxes = [
    ('No5', 1252, 98, 1329, 139, '#0b1f50', 'white'),
    ('No9', 1252, 158, 1329, 199, '#0033ff', 'white'),
    ('No3', 1252, 215, 1329, 257, '#008080', 'white'),
    ('No7', 1252, 270, 1329, 313, '#f57212', 'white'),
    ('No13', 1251, 394, 1329, 435, '#000000', 'white'),
    ('No2', 1252, 440, 1329, 482, '#f57212', 'white'),
    ('No12', 1254, 489, 1333, 529, '#007a00', 'white'),
    ('No14', 1252, 537, 1329, 579, '#0033ff', 'white'),
    ('No16', 1252, 585, 1329, 625, '#7030a0', 'white'),
    ('No21', 1254, 786, 1334, 826, '#66ffff', 'black'),
    ('No17', 1254, 837, 1331, 878, '#0033ff', 'white'),
]
for name, x0, y0, x1, y1, face, tc in boxes:
    fig.patches.append(Rectangle((x0 / W, 1 - y1 / H), (x1 - x0) / W, (y1 - y0) / H,
                                 transform=fig.transFigure, facecolor=face, edgecolor='black', lw=2))
    fig.text((x0 + x1) / 2 / W, 1 - ((y0 + y1) / 2 + 3) / H, name, ha='center', va='center',
             color=tc, fontsize=10)

fig.savefig('out.png', dpi=100)
